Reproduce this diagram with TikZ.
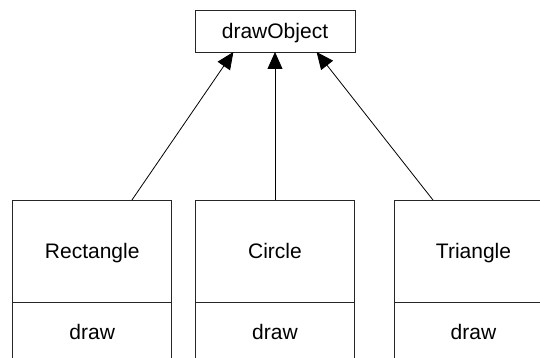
\documentclass[tikz,border=0pt]{standalone}
\usepackage{fontspec}
\setmainfont{Liberation Sans}
\usetikzlibrary{arrows.meta,calc}
\begin{document}
\begin{tikzpicture}[x=1pt,y=-1pt,
  every node/.style={font=\fontsize{21}{25}\selectfont, inner sep=0pt, outer sep=0pt, text height=15pt, text depth=0pt},
  box/.style={draw=black!85, line width=0.8pt, fill=white, rectangle},
  classtop/.style={box, minimum width=159pt, minimum height=102.7pt},
  classbot/.style={box, minimum width=159pt, minimum height=57.5pt, text height=17pt},
  inherit/.style={draw=black, line width=0.8pt, -{Triangle[length=17pt,width=15pt]}}]
\useasboundingbox (0,0) rectangle (540,358);
\clip (0,0) rectangle (540,358);
\fill[white] (0,0) rectangle (540,358);
\node[box, minimum width=160pt, minimum height=42pt] (obj) at (275,31) {drawObject};
\node[classtop] (rect) at (92.2,251.35) {Rectangle};
\node[classbot, anchor=north] (rectd) at (rect.south) {draw};
\node[classtop] (circ) at (275,251.35) {Circle};
\node[classbot, anchor=north] (circd) at (circ.south) {draw};
\node[classtop] (tri) at (473.5,251.35) {Triangle};
\node[classbot, anchor=north] (trid) at (tri.south) {draw};
\draw[inherit] ($(rect.north west)!0.75!(rect.north east)$) -- ($(obj.south west)!0.24!(obj.south east)$);
\draw[inherit] (circ.north) -- (obj.south);
\draw[inherit] ($(tri.north west)!0.245!(tri.north east)$) -- ($(obj.south west)!0.76!(obj.south east)$);
\end{tikzpicture}
\end{document}
